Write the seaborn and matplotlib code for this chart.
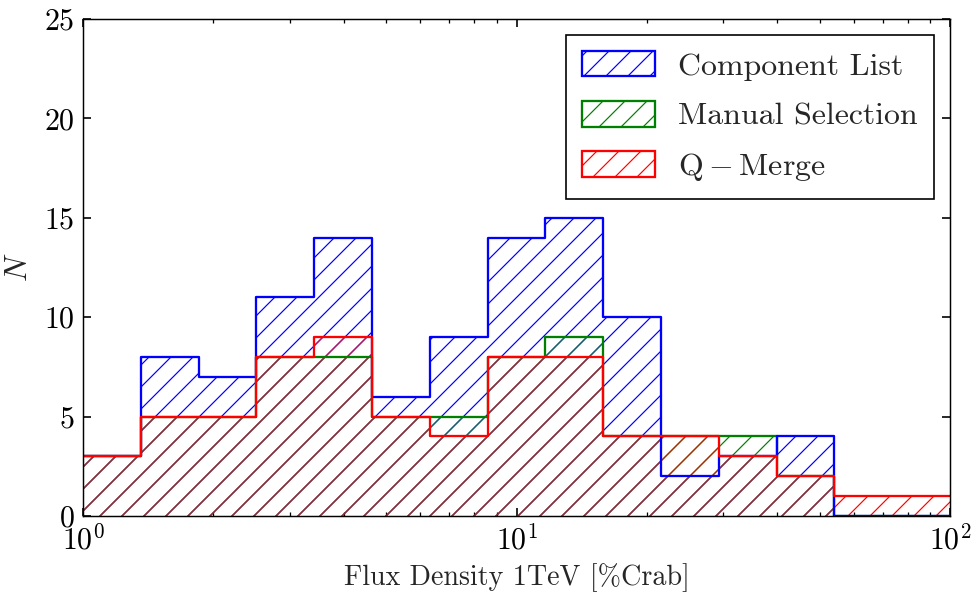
import numpy as np
import matplotlib
matplotlib.use("Agg")
import matplotlib.pyplot as plt
import matplotlib.patches as mpatches
import seaborn as sns

# Flux bins: 15 equal-width bins in log10 space between 1 and 100 %Crab
log_edges = list(np.linspace(0.0, 2.0, 16))

# Source counts per flux bin for each catalogue
component_list = [3, 8, 7, 11, 14, 6, 9, 14, 15, 10, 2, 3, 4, 0, 0]
manual_selection = [3, 5, 5, 8, 8, 5, 5, 8, 9, 4, 4, 4, 2, 0, 0]
q_merge = [3, 5, 5, 8, 9, 5, 4, 8, 8, 4, 4, 3, 2, 1, 1]

series_counts = [component_list, manual_selection, q_merge]
series_labels = ["Component List", "Manual Selection", r"$\mathrm{Q-Merge}$"]
series_colors = ["blue", "green", "red"]
outline_order = [1, 0, 2]  # Manual Selection outline underneath the others

y_ticks = [0, 5, 10, 15, 20, 25]

DPI = 132
HATCH = "//"
EDGE_LW = 1.25

sns.set_style("ticks", rc={
    "axes.edgecolor": "black",
    "axes.linewidth": 1.1,
    "xtick.direction": "in",
    "ytick.direction": "in",
    "xtick.color": "black",
    "ytick.color": "black",
})
plt.rcParams["font.family"] = ["cmr10", "DejaVu Serif"]
plt.rcParams["mathtext.fontset"] = "cm"
plt.rcParams["axes.formatter.use_mathtext"] = True
plt.rcParams["axes.unicode_minus"] = False
plt.rcParams["hatch.linewidth"] = 0.65

fig = plt.figure(figsize=(974 / DPI, 595 / DPI), dpi=DPI)
ax = fig.add_axes([83 / 974, 1 - 516 / 595, (950 - 83) / 974, (516 - 19) / 595])

edges_arr = np.asarray(log_edges)
bin_centers = 10 ** ((edges_arr[:-1] + edges_arr[1:]) / 2)

# Hatched areas, stacked in legend order
for counts, color in zip(series_counts, series_colors):
    sns.histplot(
        x=bin_centers, weights=counts, bins=log_edges, log_scale=True,
        element="step", fill=True, color=color, facecolor="none",
        edgecolor=color, hatch=HATCH, linewidth=0, ax=ax,
    )

# Step outlines
for i in outline_order:
    sns.histplot(
        x=bin_centers, weights=series_counts[i], bins=log_edges, log_scale=True,
        element="step", fill=False, color=series_colors[i],
        linewidth=EDGE_LW, ax=ax,
    )

handles = [
    mpatches.Patch(facecolor="none", edgecolor=c, hatch=HATCH,
                   linewidth=EDGE_LW, label=lab)
    for lab, c in zip(series_labels, series_colors)
]

ax.set_xlim(1, 100)
ax.set_ylim(0, 25)
ax.set_yticks(y_ticks)

ax.tick_params(which="both", direction="in", top=True, right=True,
               bottom=True, left=True, labelsize=16.3, pad=4.6)
ax.tick_params(which="major", length=4.2, width=0.9)
ax.tick_params(which="minor", length=2.2, width=0.7)

ax.set_xlabel("Flux Density 1TeV [%Crab]", fontsize=15.3, labelpad=4)
ax.set_ylabel(r"$N$", fontsize=17)
ax.yaxis.set_label_coords(-0.058, 0.5)

leg = ax.legend(handles=handles, loc="upper right", fontsize=17.4,
                frameon=True, fancybox=False, shadow=False, framealpha=1,
                edgecolor="black", handlelength=2.28, handleheight=0.85,
                handletextpad=0.75, labelspacing=0.64, borderpad=0.5,
                borderaxespad=0.5)
leg.get_frame().set_linewidth(0.9)

fig.savefig("out.png", dpi=DPI)
